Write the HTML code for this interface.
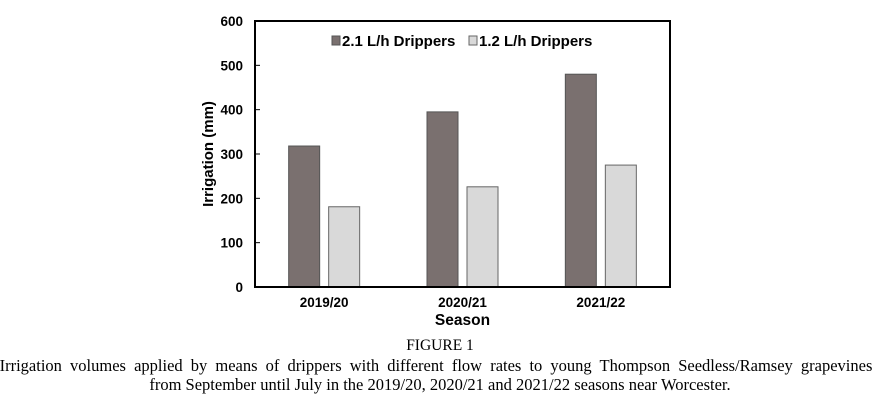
<!DOCTYPE html>
<html><head><meta charset="utf-8"><style>
body{margin:0;width:880px;height:400px;background:#fff;overflow:hidden}
svg text{font-family:"Liberation Sans",Arial,sans-serif;font-weight:bold;fill:#000}
.cap{position:absolute;left:0;width:880px;text-align:center;font-family:"Liberation Serif",serif;font-size:16.5px;color:#000;white-space:nowrap}
</style></head><body>
<svg id="chart" width="880" height="330" style="position:absolute;left:0;top:0">
<g id="bars"></g>
<g id="axes"></g>
</svg>
<div class="cap" style="top:337px;font-size:15.5px">FIGURE 1</div>
<div class="cap" style="top:356px;left:-4px;word-spacing:4px">Irrigation volumes applied by means of drippers with different flow rates to young Thompson Seedless/Ramsey grapevines</div>
<div class="cap" style="top:374.5px">from September until July in the 2019/20, 2020/21 and 2021/22 seasons near Worcester.</div>
<script>
const categories=["2019/20","2020/21","2021/22"];
const series21=[318,395,480];
const series12=[181,226,275];
const yTicks=[0,100,200,300,400,500,600];
const NS="http://www.w3.org/2000/svg";
const L=255,R=670,T=21,B=287,yMax=600;
const y=v=>B-(v/yMax)*(B-T);
const cw=(R-L)/categories.length;
const cx=i=>L+cw*(i+0.5);
function mk(tag,at,parent,txt){const e=document.createElementNS(NS,tag);for(const k in at)e.setAttribute(k,at[k]);if(txt!==undefined)e.textContent=txt;parent.appendChild(e);return e;}
const bars=document.getElementById('bars'),axes=document.getElementById('axes');
categories.forEach((c,i)=>{
  const b1=mk('rect',{x:cx(i)-35.5,y:y(series21[i]),width:31,height:B-y(series21[i]),fill:'#7a706f',stroke:'#555','stroke-width':1},bars);
  
  
  const b2=mk('rect',{x:cx(i)+4.5,y:y(series12[i]),width:31,height:B-y(series12[i]),fill:'#d9d9d9',stroke:'#666','stroke-width':1},bars);
  
  
  const t=mk('text',{x:cx(i),y:307,'text-anchor':'middle','font-size':13.5},axes,c);
  
  
});
yTicks.forEach(v=>{
  const t=mk('text',{x:243,y:y(v)+5,'text-anchor':'end','font-size':13.5},axes,v);
  
  
  mk('line',{x1:L,x2:L+5,y1:y(v),y2:y(v),stroke:'#000','stroke-width':1},axes);
});
const fr=mk('rect',{x:L,y:T,width:R-L,height:B-T,fill:'none',stroke:'#000','stroke-width':2},axes);


const xt=mk('text',{x:(L+R)/2,y:325,'text-anchor':'middle','font-size':15.5},axes,'Season');


const yt=mk('text',{x:0,y:0,transform:'translate(213,154) rotate(-90)','text-anchor':'middle','font-size':15},axes,'Irrigation (mm)');


const lg=mk('g',{},axes);


mk('rect',{x:332,y:36,width:8,height:9,fill:'#7a706f',stroke:'#555'},lg);
mk('text',{x:342,y:46,'font-size':15},lg,'2.1 L/h Drippers');
mk('rect',{x:469,y:36,width:8,height:9,fill:'#d9d9d9',stroke:'#666'},lg);
mk('text',{x:479,y:46,'font-size':15},lg,'1.2 L/h Drippers');
</script>
</body></html>
